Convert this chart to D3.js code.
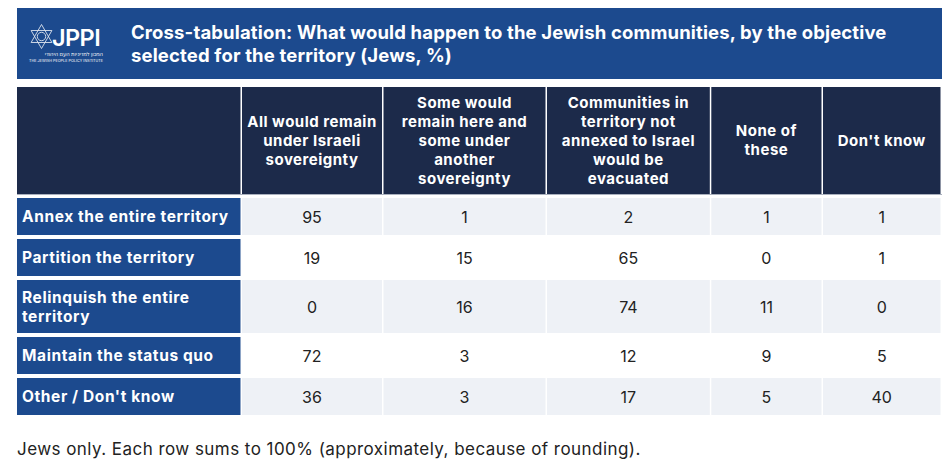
<!DOCTYPE html>
<html>
<head>
<meta charset="utf-8">
<script src="https://cdn.jsdelivr.net/npm/d3@7"></script>
<style>
  body { margin: 0; background: #fff; }
  svg { display: block; font-family: Inter, "Open Sans", sans-serif; }
</style>
</head>
<body>
<svg id="chart" width="950" height="467"></svg>
<script>
// chart data
const titleLines = [
  "Cross-tabulation: What would happen to the Jewish communities, by the objective",
  "selected for the territory (Jews, %)"
];
const columns = [
  ["All would remain", "under Israeli", "sovereignty"],
  ["Some would", "remain here and", "some under", "another", "sovereignty"],
  ["Communities in", "territory not", "annexed to Israel", "would be", "evacuated"],
  ["None of", "these"],
  ["Don't know"]
];
const objectives = [
  ["Annex the entire territory"],
  ["Partition the territory"],
  ["Relinquish the entire", "territory"],
  ["Maintain the status quo"],
  ["Other / Don't know"]
];
const values = [
  [95, 1, 2, 1, 1],
  [19, 15, 65, 0, 1],
  [0, 16, 74, 11, 0],
  [72, 3, 12, 9, 5],
  [36, 3, 17, 5, 40]
];
const note = "Jews only. Each row sums to 100% (approximately, because of rounding).";

// layout
const colEdges = [17, 242, 383.5, 547, 711.3, 823, 942];
const colGap = 1.5, rowGap = 4;
const headTop = 87, headH = 107;
const rowH = n => n > 1 ? 53 : 37;

const blue = "#1c4a8e", navy = "#1c2a4a", light = "#eef1f6", ink = "#222";

const svg = d3.select("#chart");

const x = d3.scaleOrdinal().domain(d3.range(6)).range(colEdges.slice(0, 6));
const w = i => colEdges[i + 1] - colEdges[i] - colGap;

// row tops
const rowTops = [];
objectives.reduce((y, lines) => { rowTops.push(y); return y + rowH(lines.length) + rowGap; },
  headTop + headH + rowGap);
const y = d3.scaleOrdinal().domain(d3.range(objectives.length)).range(rowTops);

// title band
svg.append("rect").attr("x", 17).attr("y", 8).attr("width", 925).attr("height", 71).attr("fill", blue);
svg.append("text").attr("x", 131).attr("y", 39).attr("fill", "#fff")
  .attr("font-size", 18.5).attr("font-weight", 700).attr("letter-spacing", 0.15)
  .selectAll("tspan").data(titleLines).join("tspan")
  .attr("x", 131).attr("dy", (d, i) => i ? 23 : 0).text(d => d);

// logo
const logo = svg.append("g").attr("fill", "none").attr("stroke", "#fff").attr("stroke-width", 0.9).attr("opacity", 0.85);
const star = (cx, cy, r, flip) => d3.range(3).map(k => {
  const a = (flip ? Math.PI / 2 : -Math.PI / 2) + k * 2 * Math.PI / 3;
  return [cx + r * Math.cos(a), cy + r * Math.sin(a)];
});
logo.append("path").attr("d", d3.line().curve(d3.curveLinearClosed)(star(41.5, 36.5, 12, false)));
logo.append("path").attr("d", d3.line().curve(d3.curveLinearClosed)(star(41.5, 36.5, 12, true)));
logo.append("circle").attr("cx", 41.5).attr("cy", 36.5).attr("r", 4.2);
svg.append("text").attr("x", 52).attr("y", 46).attr("fill", "#fff")
  .attr("font-size", 23.5).attr("font-weight", 600).attr("letter-spacing", -0.6).text("JPPI");
svg.append("text").attr("x", 103).attr("y", 56).attr("fill", "#fff").attr("text-anchor", "end")
  .attr("font-size", 5.4).text("המכון למדיניות העם היהודי");
svg.append("text").attr("x", 29).attr("y", 62).attr("fill", "#fff")
  .attr("font-size", 3.7).attr("textLength", 74).text("THE JEWISH PEOPLE POLICY INSTITUTE");

// header row
const head = svg.append("g");
head.selectAll("rect").data(d3.range(6)).join("rect")
  .attr("x", x).attr("y", headTop).attr("width", w).attr("height", headH).attr("fill", navy);
head.append("rect").attr("x", 17).attr("y", headTop + headH).attr("width", 925).attr("height", 1).attr("fill", "#a9b0be");
head.selectAll("text").data(columns).join("text")
  .attr("fill", "#fff").attr("font-size", 15).attr("font-weight", 700).attr("letter-spacing", 0.5)
  .attr("text-anchor", "middle")
  .each(function (lines, i) {
    const cx = x(i + 1) + w(i + 1) / 2;
    const cy = headTop + headH / 2 - (lines.length - 1) * 19 / 2 + 5;
    d3.select(this).selectAll("tspan").data(lines).join("tspan")
      .attr("x", cx).attr("y", (d, k) => cy + k * 19).text(d => d);
  });

// body rows
const rows = svg.append("g").selectAll("g").data(objectives).join("g");
rows.append("rect")
  .attr("x", x(0)).attr("y", (d, i) => y(i)).attr("width", w(0))
  .attr("height", d => rowH(d.length)).attr("fill", blue);
rows.append("text").attr("fill", "#fff").attr("font-size", 15.5).attr("font-weight", 700)
  .attr("letter-spacing", 0.6)
  .each(function (lines, i) {
    const cy = y(i) + rowH(lines.length) / 2 - (lines.length - 1) * 19 / 2 + 5.5;
    d3.select(this).selectAll("tspan").data(lines).join("tspan")
      .attr("x", 22).attr("y", (d, k) => cy + k * 19).text(d => d);
  });
rows.each(function (lines, r) {
  const g = d3.select(this);
  const h = rowH(lines.length);
  g.selectAll("rect.cell").data(values[r]).join("rect").attr("class", "cell")
    .attr("x", (d, c) => x(c + 1)).attr("y", y(r)).attr("width", (d, c) => w(c + 1)).attr("height", h)
    .attr("fill", r % 2 === 0 ? light : "#fff");
  g.selectAll("text.val").data(values[r]).join("text").attr("class", "val")
    .attr("x", (d, c) => x(c + 1) + w(c + 1) / 2).attr("y", y(r) + h / 2 + 6)
    .attr("text-anchor", "middle").attr("font-size", 16).attr("fill", ink).text(d => d);
});

// footnote
svg.append("text").attr("x", 17).attr("y", 455).attr("font-size", 17).attr("letter-spacing", 0.45)
  .attr("fill", ink).text(note);
</script>
</body>
</html>
